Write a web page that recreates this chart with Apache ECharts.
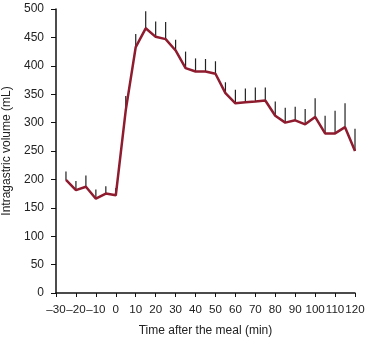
<!DOCTYPE html>
<html>
<head>
<meta charset="utf-8">
<script src="https://cdn.jsdelivr.net/npm/echarts@6/dist/echarts.min.js"></script>
<style>
html,body{margin:0;padding:0;background:#fff;}
#main{width:366px;height:338px;}
</style>
</head>
<body>
<div id="main"></div>
<script>
var times = [-25,-20,-15,-10,-5,0,5,10,15,20,25,30,35,40,45,50,55,60,65,70,75,80,85,90,95,100,105,110,115,120];
var means = [199,181,187,166,175,172,322,433,466,451,447,427,396,390,390,386,352,334,336,337,339,312,300,304,297,310,281,281,292,250];
var upper = [214,197,207,182,188,185,347,456,496,478,477,446,425,413,412,408,371,358,360,362,362,337,326,328,324,343,312,321,334,289];
var yTicks = {min:0, max:500, interval:50};
var xTicks = {min:-30, max:120, interval:10};

var lineData = times.map(function(t,i){return [t, means[i]];});
var barData = times.map(function(t,i){return [t, means[i], upper[i]];});

var chart = echarts.init(document.getElementById('main'));
var font = 'Liberation Sans, Arial, Helvetica, sans-serif';
chart.setOption({
  animation:false,
  backgroundColor:'#fff',
  grid:{left:56, right:11, top:9, bottom:45, containLabel:false, outerBoundsMode:'none'},
  xAxis:{
    type:'value', min:xTicks.min, max:xTicks.max, interval:xTicks.interval,
    name:'Time after the meal (min)', nameLocation:'middle', nameGap:32,
    nameTextStyle:{fontFamily:font, fontSize:12, color:'#222'},
    axisLine:{onZero:false, lineStyle:{color:'#111', width:1.5}},
    axisTick:{show:true, length:4, lineStyle:{color:'#111', width:1}},
    splitLine:{show:false},
    axisLabel:{fontFamily:font, fontSize:11.6, color:'#222', margin:11,
      showMinLabel:true, showMaxLabel:true, hideOverlap:false,
      formatter:function(v){return String(v).replace('-','\u2013');}}
  },
  yAxis:{
    type:'value', min:yTicks.min, max:yTicks.max, interval:yTicks.interval,
    name:'Intragastric volume (mL)', nameLocation:'middle', nameGap:42,
    nameTextStyle:{fontFamily:font, fontSize:12, color:'#222'},
    axisLine:{show:true, onZero:false, lineStyle:{color:'#111', width:1.5}},
    axisTick:{show:true, length:5, lineStyle:{color:'#111', width:1}},
    splitLine:{show:false},
    axisLabel:{fontFamily:font, fontSize:12, color:'#222', margin:12, hideOverlap:false}
  },
  series:[
    {
      type:'custom',
      data:barData,
      z:2,
      renderItem:function(params, api){
        var p0 = api.coord([api.value(0), api.value(1)]);
        var p1 = api.coord([api.value(0), api.value(2)]);
        return {type:'line', shape:{x1:p0[0], y1:p0[1], x2:p1[0], y2:p1[1]},
          style:{stroke:'#222', lineWidth:1.2}};
      }
    },
    {
      type:'line',
      data:lineData,
      z:3,
      symbol:'none',
      lineStyle:{color:'#8e1b2e', width:2.5},
      itemStyle:{color:'#8e1b2e'}
    }
  ]
});
</script>
</body>
</html>
